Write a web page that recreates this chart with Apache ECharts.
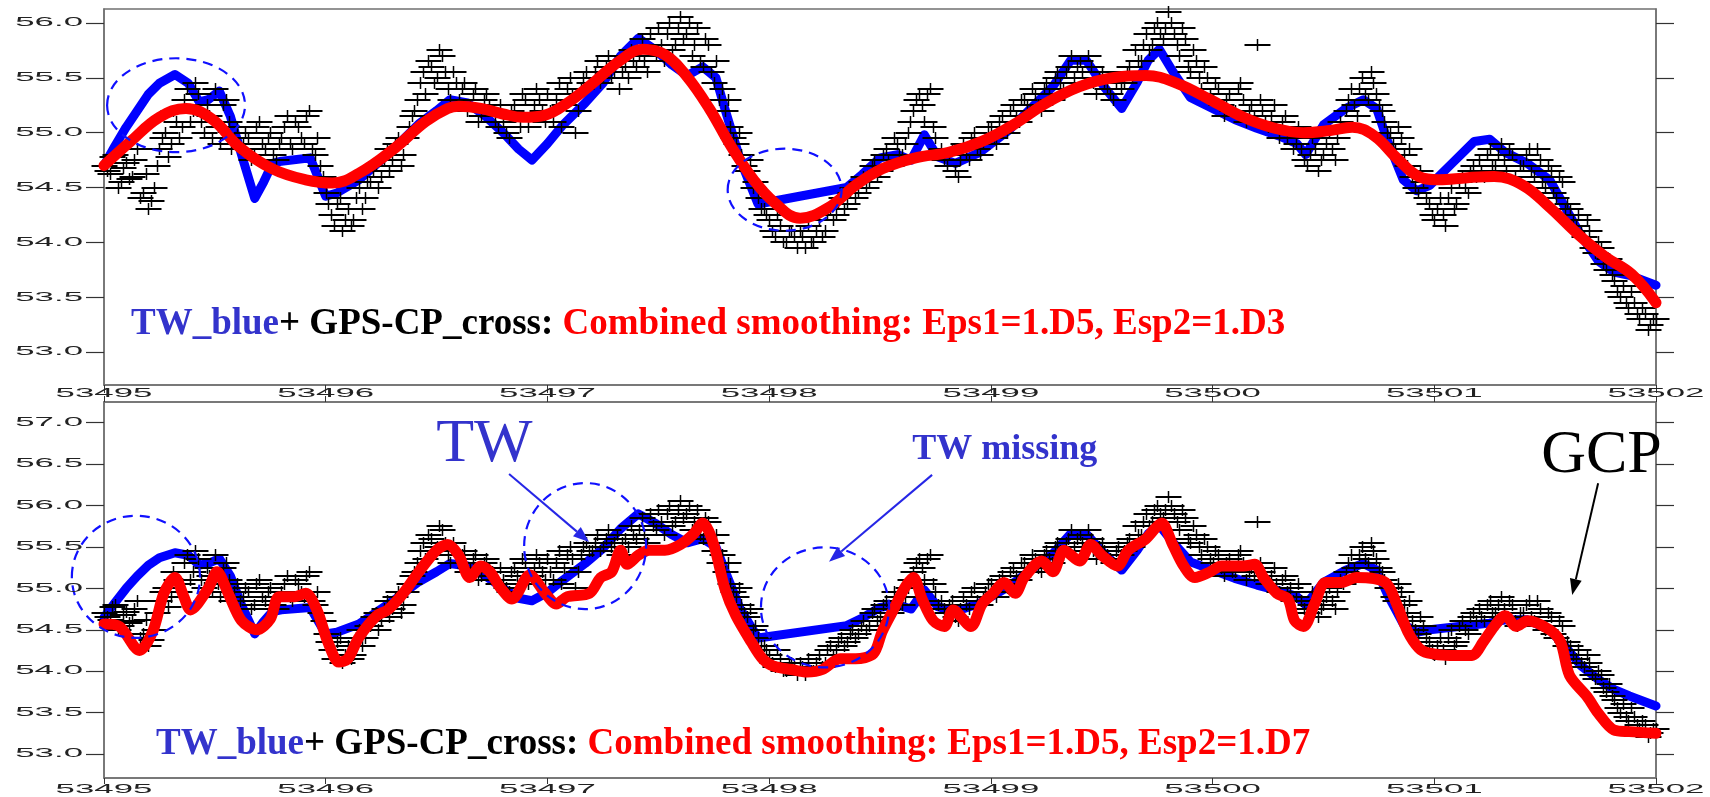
<!DOCTYPE html>
<html><head><meta charset="utf-8">
<script src="https://cdn.jsdelivr.net/npm/echarts@6/dist/echarts.min.js"></script>
<style>html,body{margin:0;padding:0;background:#fff}#c{width:1710px;height:797px}</style>
</head><body><div id="c"></div>
<script>
// ---------------- data ----------------
const DAY0 = 53495;
const xTicks = [53495, 53496, 53497, 53498, 53499, 53500, 53501, 53502];
const yTicksTop = [53.0, 53.5, 54.0, 54.5, 55.0, 55.5, 56.0];
const yTicksBottom = [53.0, 53.5, 54.0, 54.5, 55.0, 55.5, 56.0, 56.5, 57.0];

// GPS-CP crosses: first set every 0.025 day from MJD 53495, second set shifted by half a step
const gpsStep = 0.025;
const gpsVal = [
54.70,54.62,54.80,54.55,54.72,54.60,54.85,54.45,
54.30,54.50,54.85,55.00,54.90,55.10,55.05,55.40,
55.20,55.35,55.00,55.15,55.40,54.90,55.30,54.85,
55.05,54.90,54.95,54.80,55.10,54.85,55.00,54.75,
54.95,55.15,54.85,55.05,54.90,55.20,54.80,54.70,
54.45,54.25,54.35,54.10,54.30,54.20,54.50,54.40,
54.55,54.70,54.60,54.85,54.75,54.95,54.80,55.05,
55.20,55.45,55.35,55.60,55.50,55.70,55.40,55.55,
55.30,55.45,55.25,55.40,55.15,55.35,55.20,55.05,
55.10,54.95,55.25,55.05,55.30,55.15,55.40,55.20,
55.35,55.10,55.45,55.25,55.50,55.00,55.40,55.55,
55.45,55.65,55.50,55.70,55.55,55.40,55.60,55.75,
55.60,55.85,55.55,55.75,55.95,55.65,56.00,55.80,
56.05,55.90,55.70,55.95,55.60,55.80,55.45,55.30,
55.20,55.05,54.90,54.80,54.65,54.50,54.40,54.30,
54.20,54.05,54.15,54.00,54.10,53.95,54.05,54.15,
54.00,54.20,54.10,54.30,54.25,54.40,54.35,54.50,
54.45,54.60,54.55,54.75,54.65,54.85,54.70,54.90,
54.80,55.00,55.20,55.35,55.10,55.40,54.95,54.85,
54.70,54.85,54.60,54.90,54.75,55.00,54.80,54.95,
55.05,54.90,55.15,55.00,55.25,55.10,55.30,55.20,
55.35,55.20,55.45,55.30,55.55,55.40,55.60,55.50,
55.65,55.45,55.60,55.35,55.55,55.40,55.30,55.50,
55.45,55.60,55.75,55.65,55.90,55.80,56.00,55.85,
56.10,55.90,55.70,55.85,55.55,55.65,55.40,55.50,
55.30,55.40,55.15,55.35,55.20,55.45,55.10,55.25,
55.80,55.20,55.05,55.25,54.95,55.15,55.00,54.90,
54.85,54.70,54.95,54.65,54.80,55.00,54.75,55.10,
55.20,55.40,55.15,55.50,55.30,55.45,55.25,55.10,
55.00,54.85,54.95,54.70,54.60,54.45,54.55,54.35,
54.20,54.40,54.15,54.50,54.35,54.60,54.45,54.70,
54.75,54.60,54.85,54.70,54.90,54.65,54.80,54.55,
54.70,54.85,54.60,54.75,54.50,54.65,54.40,54.55,
54.35,54.20,54.25,54.05,54.10,53.90,53.95,53.75,
53.70,53.55,53.60,53.40,53.45,53.30,53.35,53.25,
53.30];
const gpsVal2 = [
54.65,54.78,54.50,54.68,54.58,54.75,54.40,54.62,
54.38,54.70,54.95,54.78,55.20,54.95,55.30,55.10,
55.45,55.10,55.25,54.95,55.05,55.25,55.10,54.95,
54.85,55.00,54.75,55.05,54.90,54.95,54.80,54.90,
55.05,54.90,55.10,54.95,55.15,54.85,54.95,54.60,
54.35,54.15,54.40,54.20,54.15,54.40,54.30,54.55,
54.65,54.50,54.75,54.65,54.90,54.70,54.95,55.15,
55.30,55.55,55.65,55.45,55.75,55.55,55.30,55.45,
55.40,55.20,55.35,55.10,55.30,55.25,55.10,55.25,
55.00,55.20,55.15,55.35,55.05,55.25,55.30,55.10,
55.20,55.30,55.05,55.40,55.35,55.20,55.50,55.45,
55.55,55.45,55.60,55.50,55.65,55.55,55.50,55.65,
55.70,55.65,55.90,55.70,55.80,55.90,55.75,55.95,
55.85,56.00,55.80,55.65,55.85,55.55,55.65,55.40,
55.30,54.95,55.00,54.70,54.75,54.55,54.30,54.25,
54.10,54.25,54.00,54.10,54.05,54.10,53.95,54.00,
54.10,54.05,54.25,54.20,54.35,54.30,54.45,54.40,
54.55,54.50,54.70,54.60,54.80,54.75,54.95,54.80,
54.90,55.10,55.30,55.25,55.35,55.05,54.80,54.75,
54.80,54.65,54.75,54.80,54.95,54.85,54.90,55.05,
54.95,55.10,55.05,55.20,55.15,55.30,55.25,55.40,
55.25,55.40,55.35,55.50,55.45,55.55,55.70,55.60,
55.55,55.70,55.45,55.50,55.45,55.35,55.45,55.40,
55.55,55.50,55.65,55.80,55.75,55.95,55.90,55.95,
56.00,55.80,55.95,55.60,55.75,55.50,55.60,55.35,
55.45,55.25,55.30,55.20,55.40,55.30,55.20,55.15,
55.30,55.10,55.15,55.05,55.10,54.95,54.85,55.05,
54.75,54.80,54.85,54.75,54.90,54.85,54.95,55.05,
55.30,55.25,55.40,55.35,55.55,55.35,55.20,55.00,
54.90,55.05,54.80,54.85,54.50,54.65,54.40,54.25,
54.30,54.25,54.40,54.30,54.55,54.50,54.65,54.60,
54.65,54.80,54.70,54.80,54.75,54.85,54.60,54.70,
54.80,54.65,54.85,54.55,54.70,54.45,54.60,54.30,
54.30,54.15,54.10,54.20,53.95,54.00,53.80,53.85,
53.65,53.50,53.45,53.55,53.35,53.40,53.20,53.30];

// TW (blue), day offset from 53495 and value
const twT = [0.00,0.05,0.10,0.15,0.20,0.25,0.32,0.38,0.43,0.47,0.52,0.57,0.62,0.68,0.72,0.76,0.80,0.93,1.00,1.05,
1.15,1.25,1.33,1.42,1.50,1.56,1.64,1.72,1.80,1.87,1.93,2.00,2.07,2.17,2.25,2.33,2.41,2.49,2.56,2.63,
2.70,2.76,2.80,2.87,2.95,3.35,3.42,3.50,3.58,3.64,3.70,3.76,3.84,3.95,4.08,4.18,4.28,4.36,4.43,4.51,
4.59,4.66,4.71,4.76,4.82,4.90,5.00,5.10,5.20,5.30,5.38,5.42,5.50,5.60,5.68,5.74,5.79,5.86,5.92,5.98,
6.08,6.18,6.25,6.32,6.42,6.52,6.59,6.66,6.74,6.81,6.88,7.00];
const twV = [54.70,54.88,55.05,55.20,55.35,55.45,55.53,55.45,55.28,55.30,55.38,55.15,54.80,54.40,54.55,54.72,54.74,54.77,54.42,54.45,
54.57,54.75,54.90,55.08,55.20,55.30,55.27,55.15,55.00,54.85,54.75,54.90,55.07,55.27,55.45,55.70,55.86,55.75,55.62,55.52,
55.60,55.50,55.22,54.75,54.35,54.50,54.62,54.77,54.80,54.75,54.98,54.78,54.72,54.82,55.02,55.22,55.42,55.66,55.66,55.42,
55.22,55.46,55.66,55.76,55.56,55.32,55.22,55.12,55.04,54.97,54.90,54.80,55.07,55.22,55.30,55.22,54.92,54.57,54.47,54.52,
54.72,54.92,54.94,54.82,54.72,54.57,54.32,54.07,53.83,53.73,53.70,53.61];
// TW as drawn in the lower panel (differs around MJD 53501.1-53501.4)
const twBotV = [54.65,54.83,55.00,55.15,55.28,55.37,55.43,55.40,55.28,55.30,55.36,55.15,54.80,54.45,54.60,54.72,54.74,54.77,54.45,54.47,
54.57,54.75,54.90,55.08,55.20,55.30,55.27,55.15,55.00,54.88,54.85,54.95,55.10,55.30,55.48,55.72,55.90,55.78,55.65,55.55,
55.60,55.50,55.22,54.75,54.40,54.55,54.64,54.77,54.80,54.75,54.98,54.78,54.72,54.82,55.02,55.22,55.42,55.66,55.66,55.42,
55.22,55.46,55.66,55.76,55.56,55.32,55.22,55.12,55.04,54.97,54.90,54.80,55.07,55.22,55.30,55.22,54.92,54.57,54.47,54.50,
54.53,54.56,54.58,54.62,54.62,54.50,54.30,54.07,53.90,53.78,53.70,53.58];

// Combined smoothing, Esp2=1.D3 (top, red)
const redTopT = [0.00,0.12,0.25,0.37,0.49,0.61,0.76,0.91,1.03,1.15,1.30,1.45,1.55,1.60,1.70,1.80,1.89,1.99,2.09,2.21,
2.33,2.43,2.53,2.63,2.73,2.83,2.93,3.02,3.14,3.27,3.39,3.51,3.66,3.81,3.96,4.10,4.25,4.40,4.55,4.70,
4.84,4.99,5.14,5.28,5.41,5.53,5.63,5.73,5.83,5.93,6.02,6.15,6.27,6.40,6.52,6.65,6.77,6.89,7.00];
const redTopV = [54.70,54.92,55.14,55.22,55.12,54.87,54.67,54.57,54.54,54.63,54.84,55.10,55.22,55.24,55.22,55.17,55.14,55.16,55.27,55.46,
55.66,55.76,55.71,55.51,55.22,54.87,54.57,54.37,54.22,54.32,54.52,54.67,54.77,54.82,54.92,55.07,55.27,55.42,55.50,55.52,
55.45,55.30,55.14,55.04,55.00,55.02,55.05,54.97,54.77,54.60,54.57,54.59,54.60,54.52,54.32,54.07,53.87,53.71,53.45];

// Combined smoothing, Esp2=1.D7 (bottom, red)
const redBotT = [0.00,0.07,0.16,0.22,0.27,0.32,0.36,0.39,0.47,0.51,0.56,0.62,0.69,0.75,0.79,0.86,0.91,0.96,1.01,1.06,
1.10,1.15,1.23,1.28,1.35,1.42,1.50,1.55,1.60,1.65,1.70,1.74,1.79,1.84,1.92,1.99,2.04,2.09,2.19,2.24,
2.29,2.33,2.36,2.41,2.46,2.53,2.60,2.66,2.70,2.75,2.80,2.85,2.92,2.97,3.02,3.10,3.17,3.24,3.32,3.39,
3.47,3.51,3.56,3.61,3.65,3.69,3.74,3.79,3.83,3.91,3.96,4.01,4.06,4.11,4.15,4.23,4.28,4.33,4.40,4.45,
4.50,4.57,4.62,4.70,4.74,4.77,4.82,4.87,4.92,4.99,5.04,5.14,5.19,5.23,5.29,5.34,5.37,5.41,5.46,5.51,
5.58,5.65,5.78,5.83,5.88,5.93,5.97,6.07,6.17,6.22,6.27,6.32,6.37,6.42,6.52,6.57,6.61,6.69,6.74,6.81,
6.88,7.00];
const redBotV = [54.57,54.54,54.25,54.48,54.94,55.13,54.90,54.74,55.00,55.20,54.94,54.61,54.50,54.63,54.90,54.90,54.94,54.74,54.35,54.11,
54.15,54.41,54.67,54.74,54.94,55.20,55.46,55.53,55.40,55.13,55.27,55.20,55.00,54.87,55.16,54.94,54.81,54.90,54.94,55.13,
55.20,55.46,55.29,55.40,55.46,55.46,55.53,55.66,55.79,55.53,55.00,54.67,54.35,54.15,54.06,54.02,53.99,54.02,54.15,54.15,
54.21,54.48,54.74,55.00,55.13,54.87,54.61,54.54,54.74,54.54,54.81,54.94,55.07,54.94,55.13,55.33,55.20,55.46,55.33,55.53,
55.40,55.27,55.46,55.60,55.72,55.79,55.53,55.27,55.13,55.20,55.27,55.27,55.29,55.13,54.94,54.87,54.61,54.54,54.81,55.07,
55.07,55.13,55.07,54.81,54.48,54.28,54.22,54.19,54.19,54.35,54.54,54.67,54.54,54.61,54.50,54.35,53.95,53.69,53.49,53.29,
53.27,53.25];

// annotations (data units): [centre MJD, centre value, half-width days, half-height value]
const circlesTop = [[53495.325, 55.25, 0.311, 0.428], [53498.07, 54.48, 0.257, 0.374]];
const circlesBottom = [[53495.144, 55.14, 0.289, 0.737], [53497.17, 55.51, 0.275, 0.761], [53498.252, 54.77, 0.289, 0.725]];
// arrows [from MJD, from value, to MJD, to value]
const arrowsBottom = [[53496.827, 56.38, 53497.188, 55.56], [53498.735, 56.37, 53498.270, 55.32], [53501.739, 56.27, 53501.622, 54.92]];
const arrowColors = ['#2626e6', '#2626e6', '#000000'];
// notes [MJD of left edge, value of centre]
const notesBottom = [[53496.498, 56.73], [53498.645, 56.68], [53501.482, 56.60]];
const noteTexts = ['TW', 'TW missing', 'GCP'];
const noteFonts = ['62px "Liberation Serif"', 'bold 36px "Liberation Serif"', '62px "Liberation Serif"'];
const noteColors = ['#3333cc', '#3333cc', '#000000'];

const legendTop = ['TW_blue', '+ GPS-CP_cross: ', 'Combined smoothing: Eps1=1.D5, Esp2=1.D3'];
const legendBottom = ['TW_blue', '+ GPS-CP_cross: ', 'Combined smoothing: Eps1=1.D5, Esp2=1.D7'];

// ---------------- build ----------------
const pairs = (T, V) => T.map((t, i) => [DAY0 + t, V[i]]);
const gps = gpsVal.map((v, i) => [DAY0 + +(i * gpsStep).toFixed(4), v])
  .concat(gpsVal2.map((v, i) => [DAY0 + +((i + 0.5) * gpsStep).toFixed(4), v]));
const twTop = pairs(twT, twV);
const twBot = pairs(twT, twBotV);
const redTop = pairs(redTopT, redTopV);
const redBot = pairs(redBotT, redBotV);

const Y_TOP = [52.7, 56.127];
const Y_BOT = [52.71, 57.25];
const TICKFONT = '12px "Liberation Sans"';
const SX = 2.9;

function yLabelItem(params, api) {
  const p = api.coord([api.value(0), api.value(1)]);
  return { type: 'text', x: p[0] - 21, y: p[1], scaleX: SX,
    style: { text: api.value(1).toFixed(1), font: TICKFONT, fill: '#222', align: 'right', verticalAlign: 'middle' } };
}
function xLabelMaker(dy) {
  return function (params, api) {
    const p = api.coord([api.value(0), api.value(1)]);
    return { type: 'text', x: p[0], y: p[1] + dy, scaleX: SX,
      style: { text: String(api.value(0)), font: TICKFONT, fill: '#222', align: 'center', verticalAlign: 'middle' } };
  };
}
function crossItem(params, api) {
  const p = api.coord([api.value(0), api.value(1)]);
  const x = Math.round(p[0]) + 0.5, y = Math.round(p[1]);
  return { type: 'group', children: [
    { type: 'line', shape: { x1: x - 13, y1: y, x2: x + 13, y2: y }, style: { stroke: '#000', lineWidth: 2 } },
    { type: 'line', shape: { x1: x, y1: y - 6, x2: x, y2: y + 6 }, style: { stroke: '#000', lineWidth: 1.5 } }
  ] };
}
function ellipseItem(params, api) {
  const c = api.coord([api.value(0), api.value(1)]);
  const s = api.size([api.value(2), api.value(3)]);
  return { type: 'ellipse', shape: { cx: c[0], cy: c[1], rx: s[0], ry: s[1] },
    style: { fill: 'none', stroke: '#1010ff', lineWidth: 2.2, lineDash: [10, 7] } };
}
function arrowItem(params, api) {
  const a = api.coord([api.value(0), api.value(1)]);
  const b = api.coord([api.value(2), api.value(3)]);
  const col = arrowColors[params.dataIndex];
  const ang = Math.atan2(b[1] - a[1], b[0] - a[0]);
  const L = 16, W = 6;
  const bx = b[0] - L * Math.cos(ang), by = b[1] - L * Math.sin(ang);
  const nx = -Math.sin(ang) * W, ny = Math.cos(ang) * W;
  return { type: 'group', children: [
    { type: 'line', shape: { x1: a[0], y1: a[1], x2: bx, y2: by }, style: { stroke: col, lineWidth: 2 } },
    { type: 'polygon', shape: { points: [[b[0], b[1]], [bx + nx, by + ny], [bx - nx, by - ny]] }, style: { fill: col } }
  ] };
}
function noteItem(params, api) {
  const p = api.coord([api.value(0), api.value(1)]);
  const i = params.dataIndex;
  return { type: 'text', x: p[0], y: p[1],
    style: { text: noteTexts[i], font: noteFonts[i], fill: noteColors[i], align: 'left', verticalAlign: 'middle' } };
}

const axisLineStyle = { color: '#707070', width: 1.5 };
function xAx(grid, pos, len) {
  return { gridIndex: grid, type: 'value', position: pos, min: 53495, max: 53502, interval: 1,
    axisLine: { show: true, onZero: false, lineStyle: axisLineStyle },
    axisTick: { show: true, inside: false, length: len, lineStyle: { color: '#333', width: 1 } },
    axisLabel: { show: false }, splitLine: { show: false } };
}
function yAx(grid, pos, ext, ticks) {
  return { gridIndex: grid, type: 'value', position: pos, min: ext[0], max: ext[1],
    axisLine: { show: true, onZero: false, lineStyle: axisLineStyle },
    axisTick: { show: true, inside: false, length: 18, customValues: ticks, lineStyle: { color: '#333', width: 1.2 } },
    axisLabel: { show: false }, splitLine: { show: false } };
}

const FS = 37;
const richStyles = {
  b: { color: '#3333cc', fontFamily: 'Liberation Serif', fontWeight: 'bold', fontSize: FS },
  k: { color: '#000000', fontFamily: 'Liberation Serif', fontWeight: 'bold', fontSize: FS },
  r: { color: '#ff0000', fontFamily: 'Liberation Serif', fontWeight: 'bold', fontSize: FS }
};
const legendText = L => '{b|' + L[0] + '}{k|' + L[1] + '}{r|' + L[2] + '}';

const option = {
  animation: false,
  backgroundColor: '#ffffff',
  title: [
    { text: legendText(legendTop), left: 131, top: 304, padding: 0, textStyle: { rich: richStyles, lineHeight: 40 } },
    { text: legendText(legendBottom), left: 156, top: 724, padding: 0, textStyle: { rich: richStyles, lineHeight: 40 } }
  ],
  grid: [
    { left: 104, top: 9, width: 1552, height: 376, show: true, borderColor: '#707070', borderWidth: 1.5 },
    { left: 104, top: 402, width: 1552, height: 376, show: true, borderColor: '#707070', borderWidth: 1.5 }
  ],
  xAxis: [xAx(0, 'bottom', 8), xAx(1, 'bottom', 6), xAx(1, 'top', 6)],
  yAxis: [yAx(0, 'left', Y_TOP, yTicksTop), yAx(0, 'right', Y_TOP, yTicksTop),
          yAx(1, 'left', Y_BOT, yTicksBottom), yAx(1, 'right', Y_BOT, yTicksBottom)],
  series: [
    // top panel
    { type: 'line', xAxisIndex: 0, yAxisIndex: 0, data: twTop, showSymbol: false, silent: true, z: 2,
      lineStyle: { color: '#0000ff', width: 9, join: 'round', cap: 'round' } },
    { type: 'custom', xAxisIndex: 0, yAxisIndex: 0, data: gps, renderItem: crossItem, silent: true, z: 3 },
    { type: 'line', xAxisIndex: 0, yAxisIndex: 0, data: redTop, showSymbol: false, smooth: 0.4, silent: true, z: 4,
      lineStyle: { color: '#ff0000', width: 11, join: 'round', cap: 'round' } },
    { type: 'custom', xAxisIndex: 0, yAxisIndex: 0, data: circlesTop, renderItem: ellipseItem, silent: true, z: 5 },
    // bottom panel
    { type: 'line', xAxisIndex: 1, yAxisIndex: 2, data: twBot, showSymbol: false, silent: true, z: 2,
      lineStyle: { color: '#0000ff', width: 9, join: 'round', cap: 'round' } },
    { type: 'custom', xAxisIndex: 1, yAxisIndex: 2, data: gps, renderItem: crossItem, silent: true, z: 3 },
    { type: 'line', xAxisIndex: 1, yAxisIndex: 2, data: redBot, showSymbol: false, smooth: 0.3, silent: true, z: 4,
      lineStyle: { color: '#ff0000', width: 11, join: 'round', cap: 'round' } },
    { type: 'custom', xAxisIndex: 1, yAxisIndex: 2, data: circlesBottom, renderItem: ellipseItem, silent: true, z: 5 },
    { type: 'custom', xAxisIndex: 1, yAxisIndex: 2, data: arrowsBottom, renderItem: arrowItem, silent: true, z: 6,
      encode: { x: [0, 2], y: [1, 3] } },
    { type: 'custom', xAxisIndex: 1, yAxisIndex: 2, data: notesBottom, renderItem: noteItem, silent: true, z: 6 },
    // tick labels
    { type: 'custom', xAxisIndex: 0, yAxisIndex: 0, data: yTicksTop.map(v => [DAY0, v]), renderItem: yLabelItem, silent: true, z: 7 },
    { type: 'custom', xAxisIndex: 1, yAxisIndex: 2, data: yTicksBottom.map(v => [DAY0, v]), renderItem: yLabelItem, silent: true, z: 7 },
    { type: 'custom', xAxisIndex: 0, yAxisIndex: 0, data: xTicks.map(v => [v, Y_TOP[0]]), renderItem: xLabelMaker(9), silent: true, z: 7 },
    { type: 'custom', xAxisIndex: 1, yAxisIndex: 2, data: xTicks.map(v => [v, Y_BOT[0]]), renderItem: xLabelMaker(12), silent: true, z: 7 }
  ]
};

const chart = echarts.init(document.getElementById('c'), null, { renderer: 'canvas' });
chart.setOption(option);
</script>
</body></html>
